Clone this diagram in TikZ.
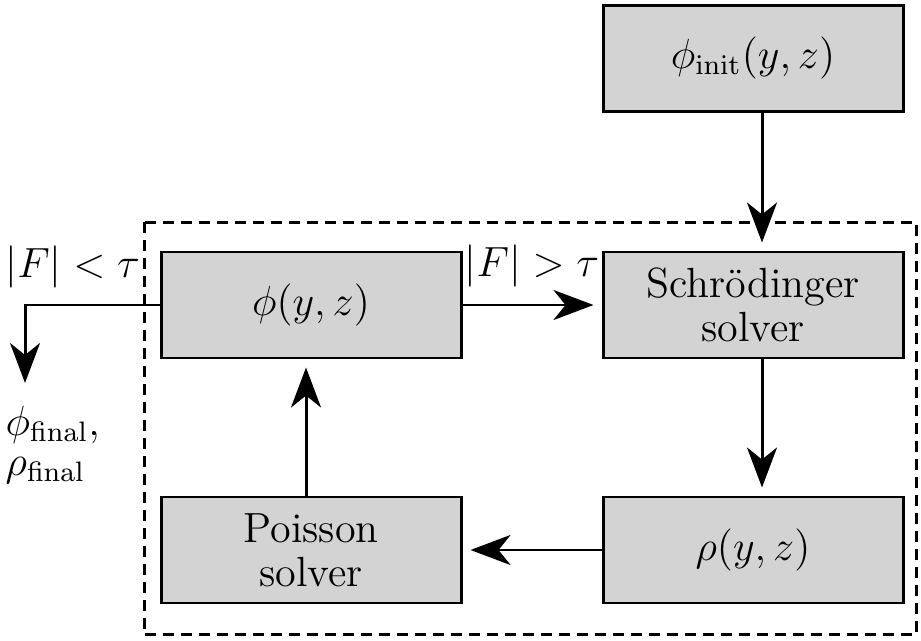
\documentclass[tikz,border=0pt]{standalone}
\usepackage{amsmath}
\usetikzlibrary{arrows.meta,positioning,calc}
\definecolor{BoxGray}{HTML}{D3D3D3}

\begin{document}
\begin{tikzpicture}[
    block/.style={draw,line width=0.85pt,fill=BoxGray,minimum width=3cm,
      minimum height=1.06cm,inner sep=0pt,align=center,
      font=\fontsize{12}{12.5}\selectfont},
    arr/.style={-{Stealth[length=4mm,width=3mm,inset=1.2mm]},line width=0.85pt,
      shorten >=0.08cm},
    lbl/.style={inner sep=0pt,font=\fontsize{12}{12.5}\selectfont}
  ]
    \useasboundingbox (0,0) rectangle (9.21,-6.40);
    \node[block] (init) at (7.53,-0.58) {$\phi_{\mathrm{init}}(y,z)$};
    \node[block,below=1.38cm of init] (schr) {Schr\"odinger\\solver};
    \node[block,below=1.36cm of schr] (rho) {$\rho(y,z)$};
    \node[block,left=1.39cm of schr] (phi) {$\phi(y,z)$};
    \node[block,below=1.36cm of phi] (poisson) {Poisson\\solver};
    \foreach \a/\b in {init/schr,schr/rho}
      \draw[arr] ([xshift=0.09cm]\a.south) -- ([xshift=0.09cm]\b.north);
    \draw[arr] (rho.west) -- (rho.west -| poisson.east);
    \draw[arr] ([xshift=-0.05cm]poisson.north) -- ([xshift=-0.05cm]phi.south);
    \draw[arr] (phi.east) -- (phi.east -| schr.west)
      node[lbl,midway,above=0.16cm] {$|F|>\tau$};
    \coordinate[left=1.345cm of phi.west] (bend);
    \coordinate (outend) at ($(bend)+(0,-0.86)$);
    \draw[arr] (phi.west) -- (bend) -- (outend);
    \node[lbl,anchor=south west] (stop) at ($(bend)+(-0.2,0.16)$) {$|F|<\tau$};
    \node[lbl,anchor=base west] (phifin) at ($(outend)+(-0.2,-0.44)$) {$\phi_{\mathrm{final}},$};
    \node[lbl,anchor=base west] (rhofin) at ($(outend)+(-0.2,-0.84)$) {$\rho_{\mathrm{final}}$};
    \draw[line width=0.85pt,dash pattern=on 1.1mm off 0.7mm]
      ($(phi.north west)+(-0.155,0.285)$) rectangle ($(rho.south east)+(0.115,-0.305)$);
  \end{tikzpicture}
\end{document}
